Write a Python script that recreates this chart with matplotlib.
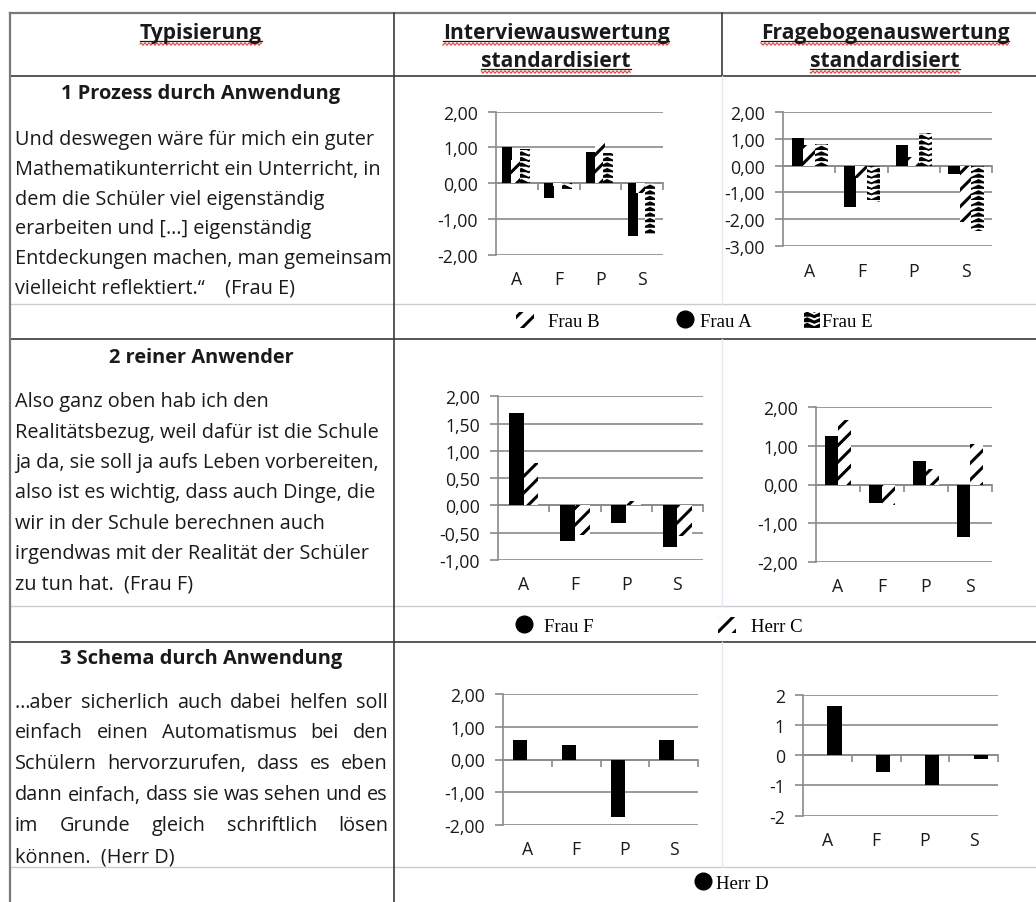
import warnings
import numpy as np
import matplotlib
matplotlib.use("Agg")
import matplotlib.pyplot as plt
from matplotlib import hatch as mhatch
from matplotlib.path import Path
from matplotlib.patches import Patch
from matplotlib.lines import Line2D
from matplotlib.ticker import MultipleLocator, FuncFormatter
from matplotlib.textpath import TextPath
from matplotlib.font_manager import FontProperties

warnings.filterwarnings("ignore")

# values
cats = ["A", "F", "P", "S"]

# 1 Prozess durch Anwendung
int1_frau_a = [1.00, -0.42, 0.88, -1.48]
int1_frau_b = [0.66, -0.08, 1.16, -0.28]
int1_frau_e = [0.96, -0.17, 0.85, -1.43]
fra1_frau_a = [1.02, -1.55, 0.78, -0.31]
fra1_frau_b = [0.77, -0.47, 0.31, -2.10]
fra1_frau_e = [0.80, -1.36, 1.21, -2.42]

# 2 reiner Anwender
int2_frau_f = [1.70, -0.65, -0.32, -0.76]
int2_herr_c = [0.77, -0.55, 0.08, -0.56]
fra2_frau_f = [1.26, -0.48, 0.60, -1.37]
fra2_herr_c = [1.68, -0.54, 0.40, 1.05]

# 3 Schema durch Anwendung
int3_herr_d = [0.60, 0.45, -1.76, 0.60]
fra3_herr_d = [1.63, -0.55, -0.99, -0.12]

titles = ["1 Prozess durch Anwendung", "2 reiner Anwender", "3 Schema durch Anwendung"]
quote1 = ["Und deswegen wäre für mich ein guter",
          "Mathematikunterricht ein Unterricht, in",
          "dem die Schüler viel eigenständig",
          "erarbeiten und […] eigenständig",
          "Entdeckungen machen, man gemeinsam",
          "vielleicht reflektiert.“    (Frau E)"]
quote2 = ["Also ganz oben hab ich den",
          "Realitätsbezug, weil dafür ist die Schule",
          "ja da, sie soll ja aufs Leben vorbereiten,",
          "also ist es wichtig, dass auch Dinge, die",
          "wir in der Schule berechnen auch",
          "irgendwas mit der Realität der Schüler",
          "zu tun hat.  (Frau F)"]
quote3 = ["…aber sicherlich auch dabei helfen soll",
          "einfach einen Automatismus bei den",
          "Schülern hervorzurufen, dass es eben",
          "dann einfach, dass sie was sehen und es",
          "im Grunde gleich schriftlich lösen",
          "können.  (Herr D)"]


# zig-zag fill like the Excel pattern
class ZigZagHatch(mhatch.HatchPatternBase):
    def __init__(self, hatch, density):
        self.num_rows = hatch.count('^') * density
        self.num_cols = 7
        self.num_vertices = self.num_rows * (2 * self.num_cols + 1)

    def set_vertices_and_codes(self, vertices, codes):
        n = 2 * self.num_cols + 1
        xs = np.linspace(0, 1, n)
        amp = 0.6 / self.num_rows
        bump = np.where(np.arange(n) % 2 == 1, amp, 0.0)
        for i in range(self.num_rows):
            sl = slice(i * n, (i + 1) * n)
            vertices[sl, 0] = xs
            vertices[sl, 1] = i / self.num_rows + bump
            codes[i * n] = Path.MOVETO
            codes[i * n + 1:(i + 1) * n] = Path.LINETO


mhatch._hatch_types.append(ZigZagHatch)

plt.rcParams['hatch.linewidth'] = 2.2

W, H = 1036, 903
FONT = "Open Sans"
SERIF = "Liberation Serif"
TXT = "#1a1a1a"
GRID = "#8a8a8a"


def fit(s, px, **kw):
    w = TextPath((0, 0), s, size=1, prop=FontProperties(**kw)).get_extents().width
    return px * 72 / (100 * w)


body_size = fit("Entdeckungen machen, man gemeinsam", 372, family=FONT)
title_size = fit("1 Prozess durch Anwendung", 277, family=FONT, weight="bold")
head_size = fit("Interviewauswertung", 224, family=FONT, weight="bold")
tick_size = fit("2,00", 33, family=FONT)
leg_size = fit("Frau B", 50, family=SERIF)

fig = plt.figure(figsize=(W / 100, H / 100), dpi=100)
renderer = fig.canvas.get_renderer()


def hline(y, x0, x1, color, lw):
    fig.add_artist(Line2D([x0 / W, x1 / W], [1 - y / H] * 2, color=color, lw=lw))


def vline(x, y0, y1, color, lw):
    fig.add_artist(Line2D([x / W] * 2, [1 - y0 / H, 1 - y1 / H], color=color, lw=lw))


# table grid
DARK = "#3a3a3a"
FAINT = "#c8ccd2"
hline(14, 10, 1036, "#7a7a7a", 1.6)
hline(77, 10, 1036, DARK, 1.2)
hline(340, 10, 1036, DARK, 1.2)
hline(643, 10, 1036, DARK, 1.2)
for y in (305, 607, 868):
    hline(y, 10, 1036, FAINT, 1.0)
vline(10, 14, 903, "#7a7a7a", 1.6)
vline(394, 14, 903, DARK, 1.2)
vline(722, 14, 77, DARK, 1.2)
for y0, y1 in ((77, 305), (340, 607), (643, 868)):
    vline(722, y0, y1, "#e4e9f0", 1.0)


def header(x, y, s):
    t = fig.text(x / W, 1 - y / H, s, ha="center", va="baseline", fontsize=head_size,
                 fontweight="bold", family=FONT, color=TXT)
    bb = t.get_window_extent(renderer)
    yb = H - y
    fig.add_artist(Line2D([bb.x0 / W, bb.x1 / W], [(yb - 3) / H] * 2, color=TXT, lw=0.9))
    xs = np.arange(bb.x0, bb.x1, 0.5)
    ys = yb - 6 + 1.2 * np.sin(xs * np.pi / 2)
    fig.add_artist(Line2D(xs / W, ys / H, color="#e0413c", lw=0.8))


header(201, 39, "Typisierung")
header(556, 39, "Interviewauswertung")
header(556, 67, "standardisiert")
header(885, 39, "Fragebogenauswertung")
header(885, 67, "standardisiert")

X_LEFT, X_RIGHT = 15, 388


def quote(lines, y0, step, justify=False):
    for i, line in enumerate(lines):
        yb = 1 - (y0 + i * step + 5.5) / H
        if justify and i < len(lines) - 1:
            words = line.split()
            arts = [fig.text(0, yb, w, fontsize=body_size, family=FONT, color=TXT, va="baseline")
                    for w in words]
            widths = [a.get_window_extent(renderer).width for a in arts]
            gap = (X_RIGHT - X_LEFT - sum(widths)) / (len(words) - 1)
            x = X_LEFT
            for a, w in zip(arts, widths):
                a.set_x(x / W)
                x += w + gap
        else:
            fig.text(X_LEFT / W, yb, line, fontsize=body_size, family=FONT, color=TXT, va="baseline")


for title, yc in zip(titles, (93, 357, 658)):
    fig.text(201 / W, 1 - (yc + 6) / H, title, ha="center", va="baseline", fontsize=title_size,
             fontweight="bold", family=FONT, color=TXT)

quote(quote1, 140, 29.6)
quote(quote2, 402, 30.3)
quote(quote3, 702, 31.0, justify=True)


def comma2(v, _):
    return f"{round(v, 2) + 0.0:.2f}".replace(".", ",")


def whole(v, _):
    return f"{int(round(v))}"


def chart(left, right, top, bottom, ylim, step, fmt):
    ax = fig.add_axes([left / W, 1 - bottom / H, (right - left) / W, (bottom - top) / H])
    ax.set_xlim(-0.5, 3.5)
    ax.set_ylim(*ylim)
    ax.yaxis.set_major_locator(MultipleLocator(step))
    ax.yaxis.set_major_formatter(FuncFormatter(fmt))
    ax.grid(axis="y", color=GRID, lw=1.2)
    ax.set_axisbelow(True)
    for s in ("top", "right", "bottom"):
        ax.spines[s].set_visible(False)
    ax.spines["left"].set_color(GRID)
    ax.spines["left"].set_linewidth(1.2)
    ax.tick_params(axis="y", direction="out", length=6, width=1.2, color=GRID,
                   labelsize=tick_size, labelcolor=TXT, pad=7)
    ax.set_xticks(range(len(cats)), labels=cats)
    ax.tick_params(axis="x", length=0, pad=11, labelsize=tick_size, labelcolor=TXT)
    for lab in ax.get_xticklabels() + ax.get_yticklabels():
        lab.set_family(FONT)
    zero = ax.secondary_xaxis(0, transform=ax.transData)
    zero.set_xticks([0.5, 1.5, 2.5, 3.5], labels=[""] * 4)
    zero.tick_params(axis="x", direction="out", length=5, width=1.2, color=GRID)
    zero.spines["bottom"].set_color(GRID)
    zero.spines["bottom"].set_linewidth(1.2)
    return ax


x = np.arange(len(cats))


def solid(ax, vals, off, w):
    ax.bar(x + off, vals, w, color="black", zorder=3)


def stripes(ax, vals, off, w):
    ax.bar(x + off, vals, w, color="white", edgecolor="black", hatch="//", linewidth=0, zorder=3)


def zigzag(ax, vals, off, w):
    bars = ax.bar(x + off, vals, w, color="white", edgecolor="black", hatch="^^^", linewidth=0, zorder=3)
    for b in bars:
        if hasattr(b, "set_hatch_linewidth"):
            b.set_hatch_linewidth(1.3)


# row 1
ax = chart(496, 663, 112.7, 255.7, (-2, 2), 1, comma2)
solid(ax, int1_frau_a, -0.23, 0.24)
stripes(ax, int1_frau_b, -0.02, 0.24)
zigzag(ax, int1_frau_e, 0.19, 0.24)

ax = chart(783, 992, 112.7, 247.3, (-3, 2), 1, comma2)
solid(ax, fra1_frau_a, -0.22, 0.23)
stripes(ax, fra1_frau_b, 0.0, 0.23)
zigzag(ax, fra1_frau_e, 0.23, 0.25)

# row 2
ax = chart(498, 703, 397.3, 561, (-1, 2), 0.5, comma2)
solid(ax, int2_frau_f, -0.145, 0.29)
stripes(ax, int2_herr_c, 0.145, 0.29)

ax = chart(816, 992, 408.3, 562.7, (-2, 2), 1, comma2)
solid(ax, fra2_frau_f, -0.145, 0.29)
stripes(ax, fra2_herr_c, 0.145, 0.29)

# row 3
ax = chart(503, 698, 695, 826, (-2, 2), 1, comma2)
solid(ax, int3_herr_d, -0.145, 0.29)

ax = chart(803, 998, 695.7, 816.7, (-2, 2), 1, whole)
solid(ax, fra3_herr_d, 0.145, 0.29)

# legends under each row
leg_px = leg_size * 100 / 72
h_stripes = Patch(facecolor="white", edgecolor="black", hatch="//", linewidth=0)
h_zig = Patch(facecolor="white", edgecolor="black", hatch="^^^", linewidth=0)
h_dot = Line2D([], [], marker="o", ls="none", color="black", markersize=12)


def entry(handle, label, x0, hw, xt, y):
    fig.legend([handle], [label], loc="center left", bbox_to_anchor=(x0 / W, 1 - y / H),
               frameon=False, borderpad=0, borderaxespad=0,
               handlelength=hw / leg_px, handleheight=1.0,
               handletextpad=(xt - x0 - hw) / leg_px,
               prop=FontProperties(family=SERIF, size=leg_size))


entry(h_stripes, "Frau B", 516, 18, 548, 322)
entry(h_dot, "Frau A", 676, 18, 700, 322)
entry(h_zig, "Frau E", 804, 16, 822, 322)
entry(h_dot, "Frau F", 514, 20, 544, 627)
entry(h_stripes, "Herr C", 718, 18, 751, 627)
entry(h_dot, "Herr D", 695, 16, 716, 884)

fig.savefig("out.png", dpi=100)
